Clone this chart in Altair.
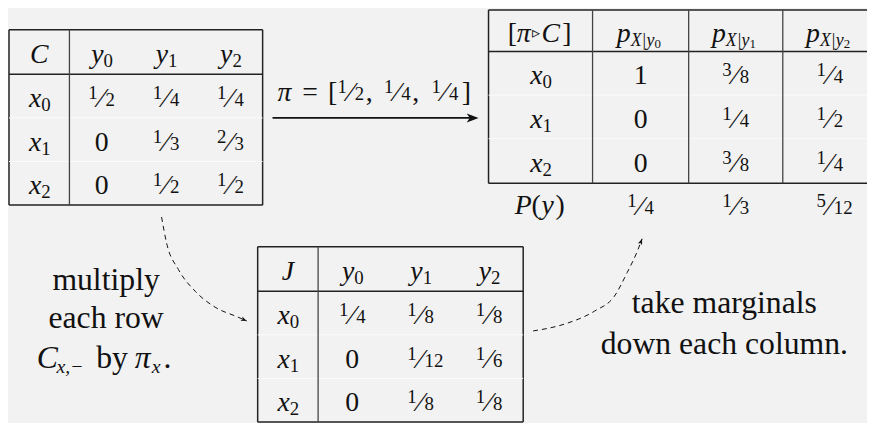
import altair as alt
import pandas as pd

# ---------------- data ----------------
Y_SUBS = ["0", "1", "2"]            # column subscripts y0, y1, y2
X_SUBS = ["0", "1", "2"]            # row subscripts x0, x1, x2
C_MATRIX = [["1/2", "1/4", "1/4"],
            ["0", "1/3", "2/3"],
            ["0", "1/2", "1/2"]]
PI_VALUES = ["1/2", "1/4", "1/4"]
J_MATRIX = [["1/4", "1/8", "1/8"],
            ["0", "1/12", "1/6"],
            ["0", "1/8", "1/8"]]
POST_MATRIX = [["1", "3/8", "1/4"],
               ["0", "1/4", "1/2"],
               ["0", "3/8", "1/4"]]
P_Y = ["1/4", "1/3", "5/12"]
LEFT_NOTE = ["multiply", "each row"]
RIGHT_NOTE = ["take marginals", "down each column."]

# ---------------- layout (pixel geometry of the diagram) ----------------
W, H = 867, 415
FONT = "Liberation Serif"
INK = "#111111"
LINE = "#222222"

C_XE, C_YE = [9, 70, 135, 200, 265], [28, 73, 117, 161, 205]
P_XE, P_YE = [493, 598, 695, 790, 885], [8, 50, 94, 138, 183]
J_XE, J_YE = [260, 321, 390, 459, 528], [247, 292, 336, 380, 424]

pieces = []


def put(text, x, y, size=28, italic=False, align="center"):
    pieces.append(dict(text=text, x=x, y=y, size=size,
                       style="italic" if italic else "normal", align=align))


def frac(s, cx, bl, big=28, small=19):
    if "/" not in s:
        put(s, cx, bl, big)
        return
    n, d = s.split("/")
    put(n, cx - 4, bl - 8, small, align="right")
    put("\u2044", cx, bl, big)
    put(d, cx + 4, bl - 1, small, align="left")


def sub(base, s, cx, bl, size=28, ssize=19):
    put(base, cx + 2, bl, size, italic=True, align="right")
    put(s, cx + 2, bl + 4, ssize, align="left")


def centers(edges):
    return [(edges[i] + edges[i + 1]) / 2 for i in range(len(edges) - 1)]


def baselines(edges):
    return [edges[i + 1] - 11 for i in range(len(edges) - 1)]


rules = []


def frame(xe, ye):
    x0, x1, y0, y1 = xe[0], xe[-1], ye[0], ye[-1]
    for (a, b, c, d) in [(x0, x1, y0, y0), (x0, x1, y1, y1), (x0, x0, y0, y1),
                         (x1, x1, y0, y1), (x0, x1, ye[1], ye[1])]:
        rules.append(dict(x=a, x2=b, y=c, y2=d, col=LINE, w=1.5))
    for yy in ye[2:-1]:
        rules.append(dict(x=x0, x2=x1, y=yy, y2=yy, col="#fbfbfb", w=1))


# Table C
frame(C_XE, C_YE)
rules.append(dict(x=C_XE[1], x2=C_XE[1], y=C_YE[0], y2=C_YE[-1], col="#444444", w=1.3))
cc, cb = centers(C_XE), baselines(C_YE)
put("C", cc[0], cb[0], italic=True)
for j in range(3):
    sub("y", Y_SUBS[j], cc[j + 1], cb[0])
for i in range(3):
    sub("x", X_SUBS[i], cc[0], cb[i + 1])
    for j in range(3):
        frac(C_MATRIX[i][j], cc[j + 1], cb[i + 1])

# Table [pi |> C]
frame(P_XE, P_YE)
for xx in P_XE[1:-1]:
    rules.append(dict(x=xx, x2=xx, y=P_YE[0], y2=P_YE[-1], col="#444444", w=1.3))
pc, pb = centers(P_XE), baselines(P_YE)
hb = P_YE[1] - 10
put("[", pc[0] - 33, hb, align="left")
put("\u03c0", pc[0] - 24, hb, italic=True, align="left")
put("\u25b9", pc[0] - 9, hb - 4, size=16, align="left")
put("C", pc[0] + 1, hb, italic=True, align="left")
put("]", pc[0] + 22, hb, align="left")
for j in range(3):
    cx = pc[j + 1]
    put("p", cx - 24, hb, italic=True, align="left")
    put("X|y", cx - 10, hb + 4, size=18, italic=True, align="left")
    put(Y_SUBS[j], cx + 14, hb + 6, size=13, align="left")
for i in range(3):
    sub("x", X_SUBS[i], pc[0], pb[i + 1])
    for j in range(3):
        frac(POST_MATRIX[i][j], pc[j + 1], pb[i + 1])
mb = 214
put("P", pc[0] - 26, mb, italic=True, align="left")
put("(", pc[0] - 9, mb, align="left")
put("y", pc[0] + 1, mb, italic=True, align="left")
put(")", pc[0] + 15, mb, align="left")
for j in range(3):
    frac(P_Y[j], pc[j + 1], mb + 1)

# Table J
frame(J_XE, J_YE)
rules.append(dict(x=J_XE[1], x2=J_XE[1], y=J_YE[0], y2=J_YE[-1], col="#444444", w=1.3))
jc, jb = centers(J_XE), baselines(J_YE)
put("J", jc[0], jb[0], italic=True)
for j in range(3):
    sub("y", Y_SUBS[j], jc[j + 1], jb[0])
for i in range(3):
    sub("x", X_SUBS[i], jc[0], jb[i + 1])
    for j in range(3):
        frac(J_MATRIX[i][j], jc[j + 1], jb[i + 1])

# straight arrow with its label
rules.append(dict(x=275, x2=478, y=117, y2=117, col=INK, w=1.6))
ab = 100
put("\u03c0", 280, ab, italic=True, align="left")
put("=", 313, ab)
put("[", 331, ab, align="left")
for k, cx in enumerate([354, 401, 449]):
    frac(PI_VALUES[k], cx, ab)
put(",", 369, ab, align="left")
put(",", 416, ab, align="left")
put("]", 466, ab, align="left")

# notes
for k, t in enumerate(LEFT_NOTE):
    put(t, 107, [291, 329][k], size=32)
nb = 369
put("C", 37, nb, size=32, italic=True, align="left")
put("x,\u2212", 57, nb + 5, size=20, italic=True, align="left")
put("by", 97, nb, size=32, align="left")
put("\u03c0", 136, nb, size=32, italic=True, align="left")
put("x", 153, nb + 5, size=20, italic=True, align="left")
put(".", 165, nb, size=32, align="left")
for k, t in enumerate(RIGHT_NOTE):
    put(t, 731, [314, 355][k], size=32)

# dashed connectors
curve_rows = []
for cid, pts in [("left", [(163, 217), (168, 243), (180, 270), (197, 292), (217, 308), (240, 318), (249, 322)]),
                 ("right", [(538, 332), (570, 325), (600, 312), (620, 297), (633, 273), (643, 252), (648, 239)])]:
    for k, (px, py) in enumerate(pts):
        curve_rows.append(dict(cid=cid, k=k, x=px, y=py))
heads = pd.DataFrame([
    dict(x=483, y=117, ang=0, sz=576),
    dict(x=249, y=322, ang=24, sz=144),
    dict(x=648, y=239, ang=291, sz=144),
])

# ---------------- chart ----------------
XS = alt.Scale(domain=[8, 8 + W], nice=False, zero=False)
YS = alt.Scale(domain=[8, 8 + H], nice=False, zero=False, reverse=True)

rule_layer = alt.Chart(pd.DataFrame(rules)).mark_rule().encode(
    x=alt.X("x:Q", scale=XS, axis=None), x2="x2:Q",
    y=alt.Y("y:Q", scale=YS, axis=None), y2="y2:Q",
    color=alt.Color("col:N", scale=None),
    strokeWidth=alt.StrokeWidth("w:Q", scale=None),
)

curve_layer = alt.Chart(pd.DataFrame(curve_rows)).mark_line(
    strokeDash=[5, 4], strokeWidth=1, color=INK, interpolate="monotone"
).encode(
    x=alt.X("x:Q", scale=XS, axis=None), y=alt.Y("y:Q", scale=YS, axis=None),
    detail="cid:N", order="k:Q",
)

head_layer = alt.Chart(heads).mark_point(
    shape="M0,0 L-1,-0.38 L-0.75,0 L-1,0.38 Z", filled=True, color=INK, opacity=1
).encode(
    x=alt.X("x:Q", scale=XS, axis=None), y=alt.Y("y:Q", scale=YS, axis=None),
    angle=alt.Angle("ang:Q", scale=None), size=alt.Size("sz:Q", scale=None),
)

tdf = pd.DataFrame(pieces)
text_layers = []
for style in ["normal", "italic"]:
    for align in ["left", "center", "right"]:
        sd = tdf[(tdf["style"] == style) & (tdf["align"] == align)]
        if len(sd) == 0:
            continue
        text_layers.append(
            alt.Chart(sd).mark_text(
                font=FONT, fontStyle=style, align=align, baseline="alphabetic", color=INK
            ).encode(
                x=alt.X("x:Q", scale=XS, axis=None), y=alt.Y("y:Q", scale=YS, axis=None),
                text="text:N", size=alt.Size("size:Q", scale=None),
            )
        )

chart = alt.layer(rule_layer, curve_layer, head_layer, *text_layers).properties(
    width=W, height=H, background="#f2f2f2", padding=0,
    autosize=alt.AutoSizeParams(type="none"),
).configure_view(stroke=None)

chart.save("out.html", embed_options={"renderer": "svg", "actions": False})
